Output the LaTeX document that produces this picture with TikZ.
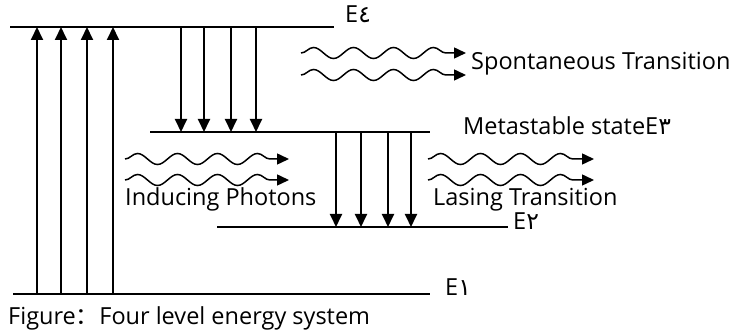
\documentclass[tikz,border=0pt]{standalone}
\usepackage{fontspec}
\setmainfont{Open Sans}
\newfontfamily\arabicfont[Script=Arabic]{DejaVu Sans}
\newfontfamily\cjkfont{Noto Sans CJK SC}
\TeXXeTstate=1
\usetikzlibrary{positioning, arrows.meta, decorations.pathmorphing}
\newcommand{\levname}[1]{E{\arabicfont\beginR #1\endR}}

\tikzset{
  level/.style={line width=1.7pt},
  jump/.style={line width=1.9pt, -{Triangle[length=13pt,width=12pt]}},
  photon/.style={line width=1.5pt, decorate, decoration={snake, segment length=40pt, amplitude=5.5pt, post length=11pt}, -{Triangle[length=12pt,width=11pt]}},
  lbl/.style={font=\fontsize{23.5}{26}\selectfont, inner sep=0pt, anchor=base west}
}

\begin{document}
\begin{tikzpicture}[x=1pt, y=-1pt]
    \useasboundingbox (0,0) rectangle (734,336);
    % levels
    \coordinate (e4) at (10,27);
    \coordinate (e3) at (150,132);
    \coordinate (e2) at (217,227);
    \coordinate (e1) at (13,294);
    \draw [level] (e4) -- (334,27);
    \draw [level] (e3) -- (430,132);
    \draw [level] (e2) -- (508,227);
    \draw [level] (e1) -- (430,294);
    \node [lbl] (E4) at (345,23) {\levname{٤}};
    \node [lbl] (E3) at (463,135) {Metastable state\levname{٣}};
    \node [lbl] (E2) at (513,230) {\levname{٢}};
    \node [lbl] (E1) at (445,296) {\levname{١}};
    % pumping and decays
    \foreach \x in {37,61,87,113} \draw [jump] (\x,0 |- e1) -- (\x,0 |- e4);
    \foreach \x in {181,204,231,256} \draw [jump] (\x,0 |- e4) -- (\x,0 |- e3);
    \foreach \x in {336,361,388,411} \draw [jump] (\x,0 |- e3) -- (\x,0 |- e2);
    % photons
    \foreach \y in {53,75} \draw [photon] (301,\y) -- (466,\y);
    \foreach \y in {159,180} \draw [photon] (125,\y) -- (289,\y);
    \foreach \y in {159,180} \draw [photon] (428,\y) -- (594,\y);
    \node [lbl] (spont) at (471,70) {Spontaneous Transition};
    \node [lbl] (induce) at (125,206) {Inducing Photons};
    \node [lbl] (lase) at (433,206) {Lasing Transition};
    \node [lbl] (caption) at (8,325) {Figure{\cjkfont ：}Four level energy system};
\end{tikzpicture}
\end{document}
